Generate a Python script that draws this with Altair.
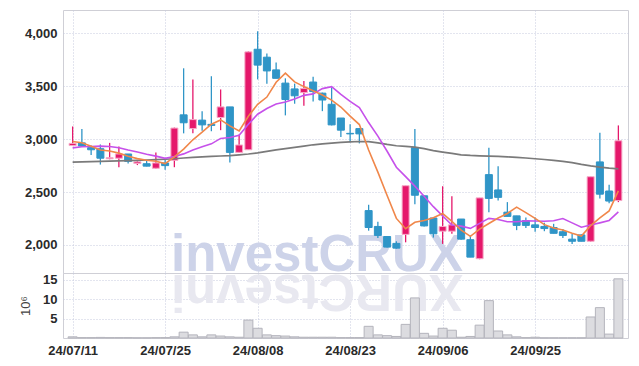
import altair as alt
import pandas as pd

dates = ["24/07/11", "24/07/12", "24/07/15", "24/07/16", "24/07/17", "24/07/18", "24/07/19", "24/07/22", "24/07/23", "24/07/24",
         "24/07/25", "24/07/26", "24/07/29", "24/07/30", "24/07/31", "24/08/01", "24/08/02", "24/08/05", "24/08/06", "24/08/07",
         "24/08/08", "24/08/09", "24/08/12", "24/08/13", "24/08/14", "24/08/16", "24/08/19", "24/08/20", "24/08/21", "24/08/22",
         "24/08/23", "24/08/26", "24/08/27", "24/08/28", "24/08/29", "24/08/30", "24/09/02", "24/09/03", "24/09/04", "24/09/05",
         "24/09/06", "24/09/09", "24/09/10", "24/09/11", "24/09/12", "24/09/13", "24/09/19", "24/09/20", "24/09/23", "24/09/24",
         "24/09/25", "24/09/26", "24/09/27", "24/09/30", "24/10/02", "24/10/04", "24/10/07", "24/10/08", "24/10/10", "24/10/11"]

opens = [2940, 2965, 2920, 2910, 2815, 2820, 2860, 2770, 2768, 2725,
         2775, 2800, 3230, 3100, 3180, 3140, 3205, 3305, 2875, 2900,
         3850, 3775, 3655, 3530, 3475, 3440, 3540, 3435, 3330, 3200,
         3055, 3100, 2325, 2175, 2080, 2015, 2100, 2920, 2465, 2255,
         2130, 2130, 2245, 2050, 1870, 2665, 2520, 2310, 2275, 2230,
         2190, 2175, 2165, 2125, 2055, 2095, 2035, 2785, 2510, 2420]
closes = [2960, 2935, 2900, 2820, 2825, 2860, 2790, 2785, 2745, 2775,
          2750, 3105, 3155, 3185, 3135, 3130, 3305, 2875, 2945, 3825,
          3700, 3645, 3575, 3375, 3410, 3480, 3450, 3370, 3135, 3085,
          3050, 3050, 2165, 2090, 1980, 1970, 2560, 2470, 2180, 2105,
          2175, 2190, 2055, 1885, 2445, 2440, 2450, 2270, 2185, 2185,
          2165, 2155, 2110, 2090, 2035, 2035, 2645, 2480, 2415, 2985]
highs = [3120, 3095, 2940, 2950, 2965, 2930, 2860, 2800, 2800, 2875,
         2825, 3110, 3670, 3565, 3265, 3595, 3470, 3305, 3045, 3830,
         4020, 3810, 3725, 3575, 3525, 3550, 3590, 3440, 3490, 3200,
         3140, 3105, 2380, 2220, 2085, 2035, 2560, 3095, 2465, 2255,
         2555, 2460, 2245, 2090, 2445, 2920, 2745, 2405, 2275, 2260,
         2260, 2210, 2200, 2150, 2105, 2100, 2645, 3060, 2570, 3130]
lows = [2935, 2925, 2850, 2760, 2810, 2735, 2770, 2755, 2743, 2720,
        2710, 2735, 3055, 3055, 3080, 3075, 3085, 2780, 2870, 2900,
        3565, 3525, 3575, 3225, 3335, 3315, 3355, 3265, 3130, 3020,
        2970, 2960, 2135, 2065, 1975, 1965, 2025, 2385, 2175, 2070,
        2010, 2105, 2050, 1885, 1865, 2310, 2420, 2270, 2140, 2160,
        2125, 2130, 2110, 2065, 2010, 2035, 2030, 2440, 2395, 2405]
volumes = [0.3, 0.1, 0.1, 0.15, 0.1, 0.1, 0.1, 0.05, 0.05, 0.1,
           0.1, 0.3, 1.5, 0.8, 0.3, 0.8, 0.5, 0.3, 0.2, 4.6,
           2.5, 0.8, 0.6, 0.5, 0.3, 0.2, 0.2, 0.2, 0.2, 0.1,
           0.1, 0.1, 3.0, 0.8, 0.6, 0.4, 3.5, 10.3, 1.2, 0.5,
           2.5, 2.0, 0.2, 0.4, 3.3, 9.6, 1.8, 0.8, 0.3, 0.1,
           0.2, 0.05, 0.05, 0.05, 0.05, 0.05, 5.4, 7.8, 1.0, 15.2]
ma5 = [2978, 2966, 2934, 2897, 2888, 2868, 2839, 2816, 2801, 2791,
       2769, 2832, 2906, 2994, 3066, 3142, 3182, 3126, 3078, 3216,
       3330, 3398, 3538, 3624, 3541, 3497, 3458, 3417, 3369, 3304,
       3218, 3138, 2897, 2688, 2467, 2251, 2153, 2214, 2232, 2257,
       2298, 2224, 2141, 2082, 2150, 2203, 2255, 2298, 2358, 2306,
       2251, 2192, 2160, 2141, 2111, 2085, 2183, 2257, 2322, 2512]
ma10 = [2918, 2928, 2931, 2934, 2931, 2919, 2897, 2878, 2857, 2840,
        2819, 2836, 2861, 2898, 2929, 2956, 3007, 3016, 3036, 3141,
        3236, 3290, 3332, 3351, 3379, 3414, 3428, 3478, 3497, 3423,
        3358, 3298, 3157, 3029, 2886, 2735, 2646, 2556, 2460, 2362,
        2275, 2189, 2178, 2157, 2204, 2251, 2240, 2220, 2220, 2228,
        2227, 2224, 2229, 2250, 2209, 2168, 2188, 2209, 2232, 2312]
ma_long = [2783, 2785, 2788, 2790, 2793, 2795, 2798, 2800, 2803, 2806,
           2810, 2815, 2822, 2828, 2833, 2837, 2841, 2845, 2852, 2860,
           2870, 2885, 2898, 2910, 2922, 2935, 2947, 2955, 2963, 2970,
           2975, 2978, 2976, 2965, 2950, 2938, 2932, 2925, 2910, 2892,
           2878, 2865, 2852, 2846, 2843, 2840, 2838, 2833, 2828, 2822,
           2815, 2808, 2800, 2790, 2778, 2762, 2748, 2736, 2726, 2720]

tick_idx = [0, 10, 20, 30, 40, 50]
price_ticks = [2000, 2500, 3000, 3500, 4000]
vol_ticks = [5, 10, 15]

UP = "#e5186b"
DOWN = "#2f95c7"
FONT = "'Liberation Sans', Arial, sans-serif"

df = pd.DataFrame({
    "i": list(range(len(dates))), "date": dates,
    "open": opens, "close": closes, "high": highs, "low": lows,
    "vol": volumes, "ma5": ma5, "ma10": ma10, "malong": ma_long,
})
df["dir"] = ["up" if c >= o else "down" for o, c in zip(opens, closes)]

W = 565
xscale = alt.Scale(domain=[-0.5, len(dates) - 0.5], nice=False, zero=False)
label_js = "[" + ",".join("'%s'" % d for d in dates) + "][datum.value]"

base = alt.Chart(df)
yscale = alt.Scale(domain=[1735, 4221], nice=False, zero=False)

wm = alt.Chart(pd.DataFrame({"t": ["investCRUX"]})).mark_text(
    font="'Liberation Sans', Arial, sans-serif", fontSize=51, fontWeight="bold",
    color="#cdd3e9", align="center", baseline="alphabetic"
).encode(x=alt.value(254), y=alt.value(261), text="t:N")

wicks = base.mark_rule(strokeWidth=1.3).encode(
    x=alt.X("i:Q", scale=xscale,
            axis=alt.Axis(values=tick_idx, labels=False, title=None, grid=True, labelPadding=0)),
    y=alt.Y("low:Q", scale=yscale,
            axis=alt.Axis(values=price_ticks, format=",.0f", title=None, grid=True)),
    y2="high:Q",
    color=alt.Color("dir:N", scale=alt.Scale(domain=["up", "down"], range=[UP, DOWN]), legend=None),
)
bodies = base.mark_bar(size=7, strokeWidth=1).encode(
    x="i:Q", y="open:Q", y2="close:Q",
    color=alt.Color("dir:N", scale=alt.Scale(domain=["up", "down"], range=[UP, DOWN]), legend=None),
    stroke=alt.Stroke("dir:N", scale=alt.Scale(domain=["up", "down"], range=["#f6a9c8", DOWN]), legend=None),
)
l_long = base.mark_line(color="#7a7a7a", strokeWidth=1.7).encode(x="i:Q", y="malong:Q")
l10 = base.mark_line(color="#c651ea", strokeWidth=1.6).encode(x="i:Q", y="ma10:Q")
l5 = base.mark_line(color="#f0874a", strokeWidth=1.6).encode(x="i:Q", y="ma5:Q")

price = alt.layer(wm, wicks, bodies, l_long, l10, l5).properties(width=W, height=263)

wm2 = alt.Chart(pd.DataFrame({"t": ["XURCtsevni"]})).mark_text(
    font="'Liberation Sans', Arial, sans-serif", fontSize=51, fontWeight="bold",
    color="#e8e8f0", align="center", baseline="alphabetic", angle=180
).encode(x=alt.value(254), y=alt.value(2), text="t:N")

vbars = base.mark_bar(size=9, color="#dcdce0", stroke="#b4b4bc", strokeWidth=1).encode(
    x=alt.X("i:Q", scale=xscale,
            axis=alt.Axis(values=tick_idx, labelExpr=label_js, title=None, grid=True,
                          labelPadding=6)),
    y=alt.Y("vol:Q", scale=alt.Scale(domain=[0, 16.7], nice=False),
            axis=alt.Axis(values=vol_ticks, format="d", title="10⁶", grid=True,
                          titleFontWeight="normal", titleFontSize=13, titleColor="#444",
                          titlePadding=10)),
)
volume = alt.layer(wm2, vbars).properties(width=W, height=65)

chart = alt.vconcat(price, volume, spacing=0, bounds="flush").properties(
    padding={"left": 11, "top": 1, "right": 2, "bottom": 2}
).configure_view(
    stroke="#cfcfd6", strokeWidth=1
).configure_axis(
    gridColor="#c6cade", gridDash=[1, 2], gridWidth=1,
    ticks=False, domain=False, labelFont=FONT, labelFontSize=13,
    labelFontWeight="bold", labelColor="#2a2a2a", labelPadding=6,
    titleFont=FONT
)

chart.save("out.html", embed_options={"renderer": "svg", "actions": False})
